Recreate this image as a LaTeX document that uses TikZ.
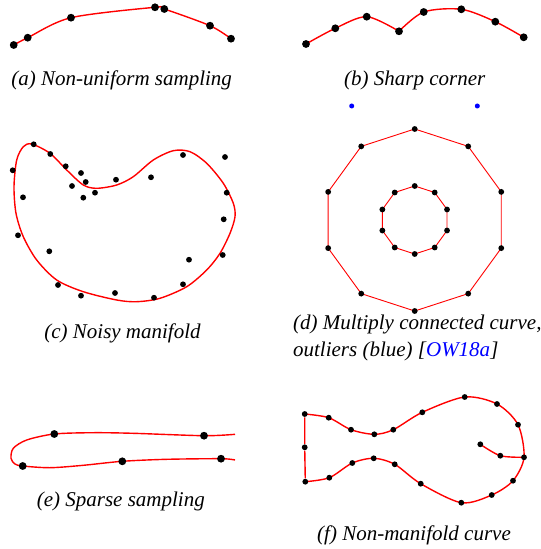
\documentclass[tikz,border=0pt]{standalone}
\usepackage{fontspec}
\setmainfont{Liberation Serif}
\usetikzlibrary{positioning, backgrounds}

\begin{document}
\begin{tikzpicture}[x=0.5pt, y=-0.5pt,
    bigdot/.style={circle, fill=black, inner sep=0pt, minimum size=3.9pt},
    smalldot/.style={circle, fill=black, inner sep=0pt, minimum size=2.9pt},
    outlier/.style={circle, fill=blue, inner sep=0pt, minimum size=2.5pt},
    curve/.style={red, line width=0.7pt},
    thincurve/.style={red, line width=0.45pt},
    caption/.style={font=\fontsize{10.5}{13.7}\selectfont\itshape, inner sep=0pt, anchor=base}]
    \useasboundingbox (0,0) rectangle (540,549);

    % (a) non-uniform sampling
    \node[bigdot] (a1) at (13.7,45) {};
    \node[bigdot] (a2) at (27.7,37.7) {};
    \node[bigdot] (a3) at (71,17.7) {};
    \node[bigdot] (a4) at (155,7.3) {};
    \node[bigdot] (a5) at (164.3,9) {};
    \node[bigdot] (a6) at (210,25.7) {};
    \node[bigdot] (a7) at (231,38.7) {};
    \node[caption] (capa) at (121.7,85.5) {(a) Non-uniform sampling};

    % (b) sharp corner
    \node[bigdot] (b1) at (306,44) {};
    \node[bigdot] (b2) at (335.3,28.3) {};
    \node[bigdot] (b3) at (366.7,16.7) {};
    \node[bigdot] (b4) at (399,31.3) {};
    \node[bigdot] (b5) at (423.7,12) {};
    \node[bigdot] (b6) at (461.3,9.3) {};
    \node[bigdot] (b7) at (495.3,21.7) {};
    \node[bigdot] (b8) at (523.7,37.3) {};
    \node[caption] (capb) at (414.7,85.5) {(b) Sharp corner};

    % (c) noisy manifold
    \node[smalldot] (c1) at (33.7,144.3) {};
    \node[smalldot] (c2) at (50.3,154) {};
    \node[smalldot] (c3) at (12.7,170.3) {};
    \node[smalldot] (c4) at (65.7,166.3) {};
    \node[smalldot] (c5) at (81,173) {};
    \node[smalldot] (c6) at (85.7,182) {};
    \node[smalldot] (c7) at (72,186) {};
    \node[smalldot] (c8) at (95,192.7) {};
    \node[smalldot] (c9) at (83.3,197.7) {};
    \node[smalldot] (c10) at (116,179.7) {};
    \node[smalldot] (c11) at (151,177.3) {};
    \node[smalldot] (c12) at (183,155) {};
    \node[smalldot] (c13) at (225,157) {};
    \node[smalldot] (c14) at (226.7,192.7) {};
    \node[smalldot] (c15) at (223.7,219.3) {};
    \node[smalldot] (c16) at (23,197.3) {};
    \node[smalldot] (c17) at (18,235.3) {};
    \node[smalldot] (c18) at (49.3,251.3) {};
    \node[smalldot] (c19) at (189,259.7) {};
    \node[smalldot] (c20) at (222.7,255) {};
    \node[smalldot] (c21) at (183,284.3) {};
    \node[smalldot] (c22) at (58,285) {};
    \node[smalldot] (c23) at (81,295.7) {};
    \node[smalldot] (c24) at (115,293) {};
    \node[smalldot] (c25) at (154,297.7) {};
    \node[caption] (capc) at (122.5,338) {(c) Noisy manifold};

    % (d) two rings and outliers
    \node[outlier] (out1) at (351.7,106) {};
    \node[outlier] (out2) at (477.3,106) {};
    \begin{scope}[shift={(414.7,220)}]
        \foreach \i in {0,...,9} {
            \node[smalldot] (do\i) at (90-36*\i:91) {};
            \node[smalldot] (di\i) at (90-36*\i:34) {};
        }
    \end{scope}
    \node[caption, anchor=base west, align=left] (capd) at (292.7,356.5)
        {(d) Multiply connected curve,\\outliers (blue) [\textcolor{blue}{OW18a}]};

    % (e) sparse sampling
    \node[bigdot] (e1) at (54.3,434) {};
    \node[bigdot] (e2) at (204,435.7) {};
    \node[bigdot] (e3) at (22.7,466) {};
    \node[bigdot] (e4) at (122.3,461.3) {};
    \node[bigdot] (e5) at (221,458.7) {};
    \coordinate (etop) at (235,434.3);
    \coordinate (ebot) at (235,460);
    \node[caption] (cape) at (120.8,506) {(e) Sparse sampling};

    % (f) non-manifold curve
    \node[smalldot] (f1) at (304.7,414) {};
    \node[smalldot] (f2) at (328.7,417.7) {};
    \node[smalldot] (f3) at (351,429.7) {};
    \node[smalldot] (f4) at (374.3,434.3) {};
    \node[smalldot] (f5) at (393.3,429.7) {};
    \node[smalldot] (f6) at (422.3,412.3) {};
    \node[smalldot] (f7) at (464.7,397) {};
    \node[smalldot] (f8) at (497,404) {};
    \node[smalldot] (f9) at (518,424.7) {};
    \node[smalldot] (f10) at (524,457.3) {};
    \node[smalldot] (f11) at (513,480.7) {};
    \node[smalldot] (f12) at (491.7,495) {};
    \node[smalldot] (f13) at (461.3,502.7) {};
    \node[smalldot] (f14) at (420.7,483.7) {};
    \node[smalldot] (f15) at (394.7,464.3) {};
    \node[smalldot] (f16) at (373.7,458.3) {};
    \node[smalldot] (f17) at (352.3,463) {};
    \node[smalldot] (f18) at (329.3,477.7) {};
    \node[smalldot] (f19) at (305.3,481.7) {};
    \node[smalldot] (f20) at (304.7,447.3) {};
    \node[smalldot] (g1) at (480.3,444.3) {};
    \node[smalldot] (g2) at (500.3,455.7) {};
    \node[caption] (capf) at (414,540.5) {(f) Non-manifold curve};

    \begin{scope}[on background layer]
        \draw[curve] plot[smooth] coordinates {(a1.center) (a2.center) (a3.center) (a4.center) (a5.center) (a6.center) (a7.center)};
        \draw[curve] plot[smooth] coordinates {(b1.center) (b2.center) (b3.center) (b4.center)};
        \draw[curve] plot[smooth] coordinates {(b4.center) (b5.center) (b6.center) (b7.center) (b8.center)};
        % the curve does not go through the noisy samples
        \draw[curve] plot[smooth cycle] coordinates {(31.7,144) (50,153.3) (66.7,170) (83.3,185) (96.7,188.3)
            (116.7,185) (133.3,176.7) (153.3,160) (173.3,150.7) (190,151.7) (206.7,163.3) (223.3,183.3)
            (233.3,203.3) (235,216.7) (230,233.3) (220,253.3) (206.7,270) (186.7,286.7) (160,298.3)
            (136.7,301.7) (116.7,300) (83.3,291.7) (56.7,280) (36.7,260) (23.3,236.7) (16,213.3)
            (14,186.7) (16.7,160) (23.3,146.7)};
        \draw[thincurve] (do0.center) \foreach \i in {1,...,9} {-- (do\i.center)} -- cycle;
        \draw[thincurve] (di0.center) \foreach \i in {1,...,9} {-- (di\i.center)} -- cycle;
        \draw[curve] plot[smooth] coordinates {(etop) (e2.center) (133.3,433.3) (93.3,432.7) (e1.center)
            (26.7,440) (13.3,448.3) (11,458.3) (15,464) (e3.center) (50,467.7) (83.3,465.3) (e4.center)
            (166.7,459.3) (e5.center) (ebot)};
        \draw[curve] plot[smooth] coordinates {(f1.center) (f2.center) (f3.center) (f4.center) (f5.center)
            (f6.center) (f7.center) (f8.center) (f9.center) (f10.center) (f11.center) (f12.center)
            (f13.center) (f14.center) (f15.center) (f16.center) (f17.center) (f18.center) (f19.center)};
        \draw[curve] (f19) -- (f20) -- (f1);
        \draw[curve] plot[smooth] coordinates {(g1.center) (g2.center) (f10.center)};
    \end{scope}
\end{tikzpicture}
\end{document}
